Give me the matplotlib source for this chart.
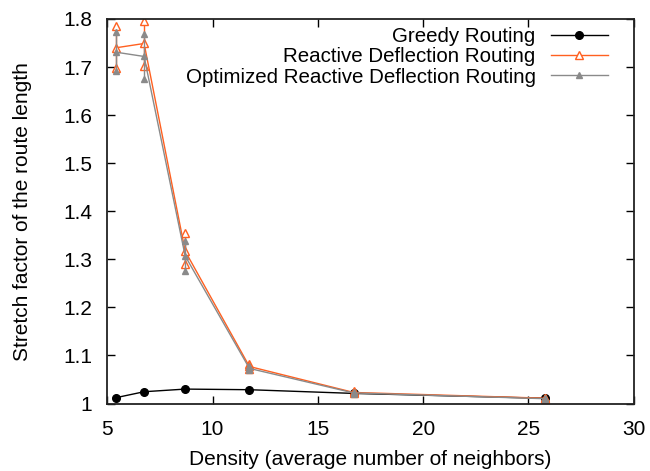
import matplotlib
matplotlib.use('Agg')
import matplotlib.pyplot as plt
from matplotlib.ticker import FormatStrFormatter

# density (average number of neighbors)
density = [5.4, 6.75, 8.7, 11.75, 16.7, 25.8]

greedy = [1.012, 1.0245, 1.030, 1.0287, 1.021, 1.0108]

reactive = [1.740, 1.749, 1.317, 1.077, 1.023, 1.011]
reactive_lo = [1.698, 1.703, 1.290, 1.072, 1.021, 1.010]
reactive_hi = [1.785, 1.796, 1.354, 1.082, 1.025, 1.012]

optimized = [1.731, 1.722, 1.307, 1.073, 1.022, 1.010]
optimized_lo = [1.692, 1.676, 1.276, 1.069, 1.020, 1.009]
optimized_hi = [1.772, 1.768, 1.339, 1.078, 1.024, 1.011]

x_ticks = [5, 10, 15, 20, 25, 30]
y_ticks = [1.0, 1.1, 1.2, 1.3, 1.4, 1.5, 1.6, 1.7, 1.8]

ORANGE = '#ff6020'
GRAY = '#8a8a8a'


def errseries(ax, x, y, lo, hi, color, marker, ms, mfc, label):
    ax.vlines(x, lo, hi, color=color, lw=1.0)
    ax.plot(x, lo, ls='none', marker=marker, ms=ms, color=color, mfc=mfc, mew=1.0)
    ax.plot(x, hi, ls='none', marker=marker, ms=ms, color=color, mfc=mfc, mew=1.0)
    ax.plot(x, y, '-', marker=marker, ms=ms, color=color, mfc=mfc, mew=1.0, lw=1.0, label=label)


def main():
    plt.rcParams['font.family'] = ['Liberation Sans', 'DejaVu Sans']
    plt.rcParams['font.size'] = 15

    fig = plt.figure(figsize=(6.5, 4.71), dpi=100)
    ax = fig.add_axes([0.165, 0.1433, 0.81, 0.8164])

    ax.plot(density, greedy, '-', color='black', marker='o', ms=5.5, lw=1.0, label='Greedy Routing')
    errseries(ax, density, reactive, reactive_lo, reactive_hi, ORANGE, '^', 6, 'white',
              'Reactive Deflection Routing')
    errseries(ax, density, optimized, optimized_lo, optimized_hi, GRAY, '^', 4.5, GRAY,
              'Optimized Reactive Deflection Routing')

    ax.set_xlim(5, 30)
    ax.set_ylim(1.0, 1.8)
    ax.set_xticks(x_ticks)
    ax.set_yticks(y_ticks)
    ax.yaxis.set_major_formatter(FormatStrFormatter('%g'))
    ax.tick_params(direction='in', top=True, right=True, length=6, width=1.0)
    ax.tick_params(axis='x', pad=12)
    ax.tick_params(axis='y', pad=11)
    for s in ax.spines.values():
        s.set_linewidth(1.3)
        s.set_color('#222222')

    ax.set_xlabel('Density (average number of neighbors)', labelpad=8)
    ax.set_ylabel('Stretch factor of the route length', labelpad=22)

    ax.legend(loc='upper right', bbox_to_anchor=(0.966, 1.0), markerfirst=False, frameon=False,
              handlelength=2.75, labelspacing=0.06, borderaxespad=0, handletextpad=0.75,
              fontsize=14.8)

    fig.savefig('out.png', dpi=100)


if __name__ == '__main__':
    main()
